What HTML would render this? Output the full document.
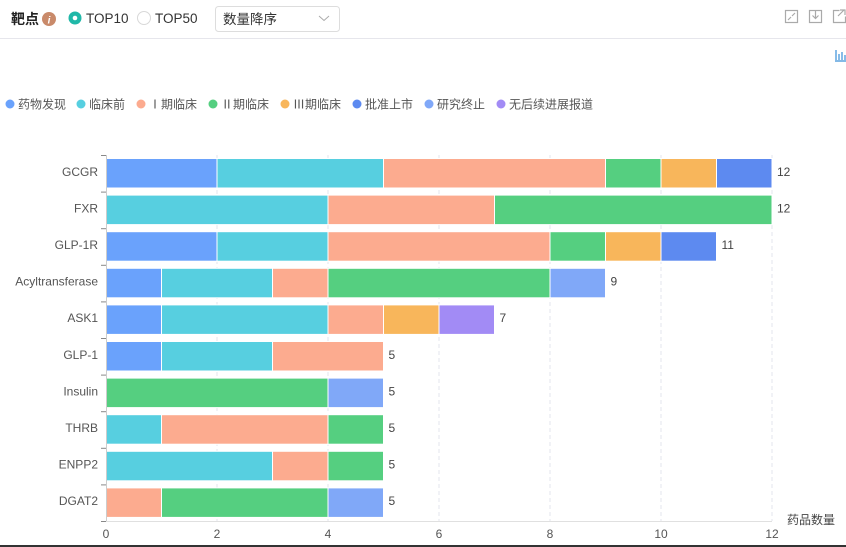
<!DOCTYPE html>
<html><head><meta charset="utf-8"><style>
body{margin:0;width:846px;height:547px;background:#fff;overflow:hidden;font-family:"Liberation Sans","Noto Sans CJK SC",sans-serif;}
</style></head><body>
<svg width="846" height="547" xmlns="http://www.w3.org/2000/svg" style="position:absolute;left:0;top:0;font-family:'Liberation Sans','Noto Sans CJK SC',sans-serif">
<text x="11" y="24" font-size="14" font-weight="bold" fill="#222">靶点</text>
<circle cx="49" cy="19" r="7" fill="#c98a6a"/>
<text x="49" y="23.5" font-size="10" font-style="italic" font-weight="bold" fill="#fff" text-anchor="middle">i</text>
<circle cx="75" cy="18" r="6.5" fill="#20b8a8"/>
<circle cx="75" cy="18" r="2.3" fill="#fff"/>
<text x="86" y="23" font-size="13.5" fill="#333">TOP10</text>
<circle cx="144" cy="18" r="6.5" fill="#fff" stroke="#d8d8d8"/>
<text x="155" y="23" font-size="13.5" fill="#333">TOP50</text>
<rect x="215.5" y="6.5" width="124" height="25" rx="3" fill="#fff" stroke="#ddd"/>
<text x="223" y="24" font-size="13.5" fill="#333">数量降序</text>
<path d="M319 16 l5 4.5 l5 -4.5" fill="none" stroke="#aaa" stroke-width="1"/>
<line x1="0" y1="38.5" x2="846" y2="38.5" stroke="#e6e6ec"/>
<g fill="none" stroke="#aaa" stroke-width="1.2">
<rect x="785.5" y="10.5" width="12" height="12"/><path d="M788 20 l3 -3 M795 13 l-3 3"/>
<rect x="809.5" y="10.5" width="12" height="12"/><path d="M815.5 11 v7 M812.5 15.5 l3 3 l3 -3"/>
<path d="M839.5 10.5 h-6 v12 h12 v-6 M838 16 l6 -6 M840 10 h5 v5"/>
</g>
<g fill="none" stroke="#3a8fd8" stroke-width="1.2"><path d="M836 50 v10 M839 54 v6 M842 52 v8 M845 55 v5 M835 61 h11"/></g>
<g font-size="12" fill="#555">
<circle cx="10" cy="104" r="4.5" fill="#6aa2fc"/><text x="18" y="108.5">药物发现</text>
<circle cx="81" cy="104" r="4.5" fill="#57cfe0"/><text x="89" y="108.5">临床前</text>
<circle cx="141" cy="104" r="4.5" fill="#fcab8f"/><text x="149" y="108.5">Ⅰ期临床</text>
<circle cx="213" cy="104" r="4.5" fill="#55cf80"/><text x="221" y="108.5">Ⅱ期临床</text>
<circle cx="285" cy="104" r="4.5" fill="#f8b65b"/><text x="293" y="108.5">Ⅲ期临床</text>
<circle cx="357" cy="104" r="4.5" fill="#5d8af0"/><text x="365" y="108.5">批准上市</text>
<circle cx="429" cy="104" r="4.5" fill="#80a8f8"/><text x="437" y="108.5">研究终止</text>
<circle cx="501" cy="104" r="4.5" fill="#a28bf5"/><text x="509" y="108.5">无后续进展报道</text>
</g>
<g stroke="#e3e6ee" stroke-dasharray="4,3">
<line x1="217" y1="155" x2="217" y2="521"/><line x1="328" y1="155" x2="328" y2="521"/>
<line x1="439" y1="155" x2="439" y2="521"/><line x1="550" y1="155" x2="550" y2="521"/>
<line x1="661" y1="155" x2="661" y2="521"/><line x1="772" y1="155" x2="772" y2="521"/>
</g>
<g stroke="#e0e0e0"><line x1="106" y1="521.5" x2="772" y2="521.5"/></g>
<g id="bars" stroke="#fff" stroke-width="1"></g>
<line x1="106.5" y1="155" x2="106.5" y2="521" stroke="#ccc"/>
<g stroke="#888" id="ticks"></g>
<g font-size="12" fill="#555" text-anchor="end" id="ylab"></g>
<g font-size="12" fill="#444" id="vals"></g>
<g font-size="12" fill="#555" text-anchor="middle">
<text x="106" y="538">0</text><text x="217" y="538">2</text><text x="328" y="538">4</text><text x="439" y="538">6</text><text x="550" y="538">8</text><text x="661" y="538">10</text><text x="772" y="538">12</text>
</g>
<text x="835" y="524" font-size="12" fill="#444" text-anchor="end">药品数量</text>
<line x1="0" y1="546" x2="846" y2="546" stroke="#333" stroke-width="2"/>
</svg>
<script>
var C={a:"#6aa2fc",b:"#57cfe0",c:"#fcab8f",d:"#55cf80",e:"#f8b65b",f:"#5d8af0",g:"#80a8f8",h:"#a28bf5"};
var D=[["GCGR",[["a",2],["b",3],["c",4],["d",1],["e",1],["f",1]]],
["FXR",[["b",4],["c",3],["d",5]]],
["GLP-1R",[["a",2],["b",2],["c",4],["d",1],["e",1],["f",1]]],
["Acyltransferase",[["a",1],["b",2],["c",1],["d",4],["g",1]]],
["ASK1",[["a",1],["b",3],["c",1],["e",1],["h",1]]],
["GLP-1",[["a",1],["b",2],["c",2]]],
["Insulin",[["d",4],["g",1]]],
["THRB",[["b",1],["c",3],["d",1]]],
["ENPP2",[["b",3],["c",1],["d",1]]],
["DGAT2",[["c",1],["d",3],["g",1]]]];
var ns="http://www.w3.org/2000/svg",u=55.5,bh=36.6;
function el(p,t,a,txt){var e=document.createElementNS(ns,t);for(var k in a)e.setAttribute(k,a[k]);if(txt)e.textContent=txt;document.getElementById(p).appendChild(e);}
D.forEach(function(r,i){var y0=155+i*bh,x=106,s=0;
r[1].forEach(function(q){el("bars","rect",{x:x,y:y0+3.5,width:q[1]*u,height:29.5,fill:C[q[0]]});x+=q[1]*u;s+=q[1];});
el("ylab","text",{x:98,y:y0+bh/2+2.5},r[0]);
el("vals","text",{x:x+5,y:y0+bh/2+2.5},String(s));
el("ticks","line",{x1:101,x2:106,y1:y0+0.5,y2:y0+0.5});
});
el("ticks","line",{x1:101,x2:106,y1:521.5,y2:521.5});
</script>
</body></html>
